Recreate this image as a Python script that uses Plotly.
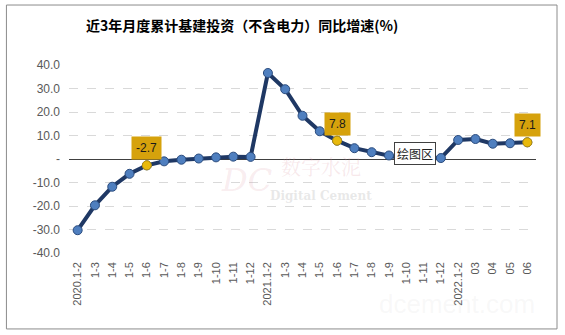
import plotly.graph_objects as go

# Monthly cumulative YoY growth of infrastructure investment (excl. power), %
periods = ["2020.1-2", "1-3", "1-4", "1-5", "1-6", "1-7", "1-8", "1-9", "1-10", "1-11", "1-12",
           "2021.1-2", "1-3", "1-4", "1-5", "1-6", "1-7", "1-8", "1-9", "1-10", "1-11", "1-12",
           "2022.1-2", "03", "04", "05", "06"]
growth = [-30.3, -19.7, -11.8, -6.3, -2.7, -1.0, -0.3, 0.2, 0.7, 1.0, 0.9,
          36.6, 29.7, 18.4, 11.8, 7.8, 4.6, 2.9, 1.5, -0.2, 0.5, 0.4,
          8.1, 8.5, 6.5, 6.7, 7.1]
highlight = [4, 15, 26]

y_ticks = [40, 30, 20, 10, 0, -10, -20, -30, -40]
y_labels = ["40.0", "30.0", "20.0", "10.0", "-", "-10.0", "-20.0", "-30.0", "-40.0"]

xs = list(range(len(periods)))

fig = go.Figure()
fig.add_trace(go.Scatter(
    x=xs, y=growth, mode="lines+markers",
    line=dict(color="#1F3864", width=4),
    marker=dict(size=9, color="#4F7FBF", line=dict(color="#2B4C7E", width=1)),
    hoverinfo="skip", showlegend=False,
))
fig.add_trace(go.Scatter(
    x=[xs[i] for i in highlight], y=[growth[i] for i in highlight], mode="markers",
    marker=dict(size=9, color="#E8B90C", line=dict(color="#B8900A", width=1)),
    hoverinfo="skip", showlegend=False,
))

annotations = []
for i in highlight:
    annotations.append(dict(
        x=xs[i], y=growth[i], xref="x", yref="y", text=f"{growth[i]:.1f}",
        showarrow=False, yshift=17, bgcolor="#D6A20C", borderpad=4,
        font=dict(family="Liberation Sans", size=12, color="#1a1a1a"),
    ))

# title
annotations.append(dict(
    x=0.37, y=1.215, xref="paper", yref="paper", xanchor="center", yanchor="middle",
    text="<b>近3年月度累计基建投资（不含电力）同比增速(%)</b>", showarrow=False,
    font=dict(family="Noto Sans CJK SC", size=14, color="#000000"),
))
# plot-area tag
annotations.append(dict(
    x=0.740, y=0.527, xref="paper", yref="paper", xanchor="center", yanchor="middle",
    text="绘图区", showarrow=False, bgcolor="#FFFFFF", bordercolor="#404040",
    borderwidth=1, borderpad=2, font=dict(family="Noto Sans CJK SC", size=12, color="#222222"),
))
# watermark
annotations.append(dict(
    x=0.54, y=0.46, xref="paper", yref="paper", xanchor="center", yanchor="middle",
    text="数字水泥", showarrow=False,
    font=dict(family="Noto Serif CJK SC, Noto Sans CJK SC", size=20, color="rgba(220,150,160,0.22)"),
))
annotations.append(dict(
    x=0.54, y=0.305, xref="paper", yref="paper", xanchor="center", yanchor="middle",
    text="<b>Digital Cement</b>", showarrow=False,
    font=dict(family="DejaVu Serif", size=12, color="rgba(190,190,190,0.35)"),
))
annotations.append(dict(
    x=0.38, y=0.39, xref="paper", yref="paper", xanchor="center", yanchor="middle",
    text="<i>DC</i>", showarrow=False,
    font=dict(family="DejaVu Serif", size=32, color="rgba(220,150,160,0.18)"),
))
annotations.append(dict(
    x=0.83, y=-0.27, xref="paper", yref="paper", xanchor="center", yanchor="middle",
    text="dcement.com", showarrow=False,
    font=dict(family="Liberation Sans", size=26, color="rgba(200,200,200,0.12)"),
))

fig.update_layout(
    width=565, height=335,
    margin=dict(l=69, r=29, t=65, b=82),
    paper_bgcolor="#FFFFFF", plot_bgcolor="#FFFFFF",
    xaxis=dict(
        range=[-0.5, len(periods) - 0.5], tickmode="array", tickvals=xs, ticktext=periods,
        tickangle=-90, showgrid=False, zeroline=False, showline=False, ticks="",
        tickfont=dict(family="Liberation Sans", size=11, color="#595959"),
        ticklabelstandoff=6, fixedrange=True,
    ),
    yaxis=dict(
        range=[-40, 40], tickmode="array", tickvals=y_ticks, ticktext=y_labels,
        showgrid=True, gridcolor="#D9D9D9", griddash="dash", gridwidth=1,
        zeroline=True, zerolinecolor="#404040", zerolinewidth=1,
        tickfont=dict(family="Liberation Sans", size=12, color="#595959"),
        ticks="", ticklabelstandoff=8, fixedrange=True,
    ),
    annotations=annotations,
    shapes=[dict(
        type="rect", xref="paper", yref="paper",
        x0=-0.134, x1=1.045, y0=-0.404, y1=1.319,
        line=dict(color="#8C8C8C", width=1), fillcolor="rgba(0,0,0,0)", layer="below",
    )],
)

fig.write_html("out.html")
